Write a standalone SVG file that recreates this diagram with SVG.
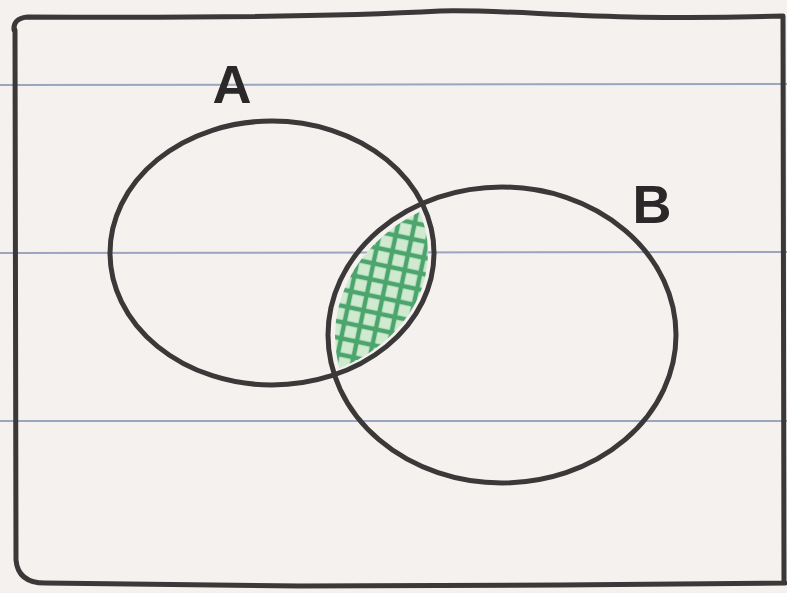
<svg xmlns="http://www.w3.org/2000/svg" width="787" height="593" viewBox="0 0 787 593">
<style>
.rule{stroke:#9aa6bf;stroke-width:2;fill:none}
.ink{stroke:#3a3838;stroke-width:5;fill:none;stroke-linecap:round;stroke-linejoin:round}
.lbl{font-family:"Liberation Sans",Arial,sans-serif;font-size:54px;fill:#2a2828;font-weight:bold}
</style>
<defs>
<clipPath id="lens">
<ellipse cx="271" cy="253" rx="157" ry="128"/>
</clipPath>
<pattern id="xh" width="16" height="16" patternUnits="userSpaceOnUse" patternTransform="rotate(12)">
<rect width="16" height="16" fill="#cfeacf"/>
<path d="M0 4H16M4 0V16" stroke="#3d9e62" stroke-width="4.5" opacity="0.9"/>
</pattern>
</defs>
<rect width="787" height="593" fill="#f5f1ee"/>
<g id="ruling">
<line class="rule" x1="0" y1="85" x2="787" y2="84"/>
<line class="rule" x1="0" y1="253" x2="787" y2="252"/>
<line class="rule" x1="0" y1="421" x2="787" y2="421"/>
</g>
<g id="frame">
<path class="ink" d="M14 30 Q13 18 28 17 C200 18 350 16 440 11 C520 9 600 22 783 16 L784 583 M15 30 L16 560 Q18 583 45 583 L300 586 L560 585 L785 583"/>
</g>
<g id="intersection">
<ellipse cx="503" cy="336" rx="168" ry="143" fill="url(#xh)" clip-path="url(#lens)"/>
</g>
<g id="setA">
<ellipse class="ink" cx="272" cy="253" rx="162" ry="132"/>
<text class="lbl" x="232" y="103" text-anchor="middle">A</text>
</g>
<g id="setB">
<ellipse class="ink" cx="502" cy="335" rx="174" ry="148"/>
<text class="lbl" x="652" y="223" text-anchor="middle">B</text>
</g>
</svg>
